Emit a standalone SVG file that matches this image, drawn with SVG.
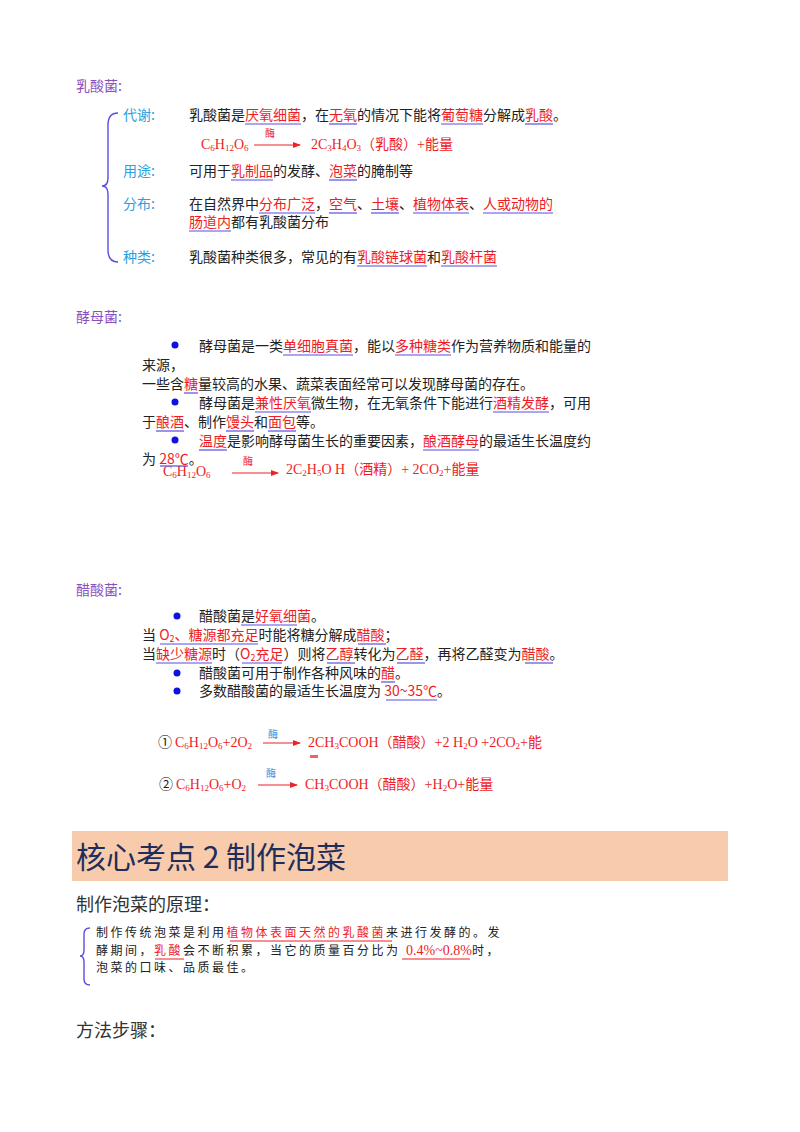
<svg xmlns="http://www.w3.org/2000/svg" width="800" height="1132" viewBox="0 0 800 1132">
<defs>
<marker id="ah" markerWidth="8" markerHeight="8" refX="7" refY="4" orient="auto" markerUnits="userSpaceOnUse"><path d="M0,1 L8,4 L0,7 Z" fill="#e8232a"/></marker>
<style>
text{font-family:"Noto Sans CJK SC","Liberation Sans",sans-serif;font-size:14px;fill:#222}
.r{fill:#ee1c25}
.h{fill:#8a50c0;font-size:14px}
.lab{fill:#2aa0e0}
.f{font-family:"Liberation Serif","Noto Sans CJK SC",serif;font-size:14px;fill:#ee1c25}
.s{font-size:9px}
.ez{font-size:10px;fill:#ee1c25}
.ezb{font-size:10px;fill:#3a8fd8}
.u{stroke:#5a4de0;stroke-width:1.2}
.arr{stroke:#e8232a;stroke-width:1.2;marker-end:url(#ah)}
.br{fill:none;stroke:#5a4de0;stroke-width:1.4}
.dot{fill:#1010e0}
.p{font-family:"Liberation Serif","Noto Sans CJK SC",serif;font-size:12px;letter-spacing:2.5px;fill:#222}
</style>
</defs>

<g id="lactic">
<text class="h" x="76" y="91">乳酸菌:</text>
<path class="br" d="M118,113 Q108,113 108,125 L108,178 Q108,186 102,186 Q108,186 108,194 L108,250 Q108,262 118,262"/>
<text class="lab" x="123" y="120">代谢:</text>
<text x="189" y="120">乳酸菌是<tspan class="r">厌氧细菌</tspan>，在<tspan class="r">无氧</tspan>的情况下能将<tspan class="r">葡萄糖</tspan>分解成<tspan class="r">乳酸</tspan>。</text>
<text class="f" x="201" y="149">C<tspan class="s" dy="2">6</tspan><tspan dy="-2">H</tspan><tspan class="s" dy="2">12</tspan><tspan dy="-2">O</tspan><tspan class="s" dy="2">6</tspan></text>
<text class="ez" x="265" y="137">酶</text>
<text class="f" x="311" y="149">2C<tspan class="s" dy="2">3</tspan><tspan dy="-2">H</tspan><tspan class="s" dy="2">4</tspan><tspan dy="-2">O</tspan><tspan class="s" dy="2">3</tspan><tspan dy="-2">（乳酸）+能量</tspan></text>
<text class="lab" x="123" y="176">用途:</text>
<text x="189" y="176">可用于<tspan class="r">乳制品</tspan>的发酵、<tspan class="r">泡菜</tspan>的腌制等</text>
<text class="lab" x="123" y="209">分布:</text>
<text x="189" y="209">在自然界中<tspan class="r">分布广泛</tspan>，<tspan class="r">空气</tspan>、<tspan class="r">土壤</tspan>、<tspan class="r">植物体表</tspan>、<tspan class="r">人或动物的</tspan></text>
<text x="189" y="227"><tspan class="r">肠道内</tspan>都有乳酸菌分布</text>
<text class="lab" x="123" y="262">种类:</text>
<text x="189" y="262">乳酸菌种类很多，常见的有<tspan class="r">乳酸链球菌</tspan>和<tspan class="r">乳酸杆菌</tspan></text>
</g>

<g id="yeast">
<text class="h" x="76" y="322">酵母菌:</text>
<circle class="dot" cx="175" cy="345" r="3.5"/>
<circle class="dot" cx="175" cy="402" r="3.5"/>
<circle class="dot" cx="175" cy="440" r="3.5"/>
<text x="199" y="351">酵母菌是一类<tspan class="r">单细胞真菌</tspan>，能以<tspan class="r">多种糖类</tspan>作为营养物质和能量的</text>
<text x="142" y="370">来源，</text>
<text x="142" y="389">一些含<tspan class="r">糖</tspan>量较高的水果、蔬菜表面经常可以发现酵母菌的存在。</text>
<text x="199" y="408">酵母菌是<tspan class="r">兼性厌氧</tspan>微生物，在无氧条件下能进行<tspan class="r">酒精发酵</tspan>，可用</text>
<text x="142" y="427">于<tspan class="r">酿酒</tspan>、制作<tspan class="r">馒头</tspan>和<tspan class="r">面包</tspan>等。</text>
<text x="199" y="446"><tspan class="r">温度</tspan>是影响酵母菌生长的重要因素，<tspan class="r">酿酒酵母</tspan>的最适生长温度约</text>
<text x="142" y="464">为 <tspan class="r">28℃</tspan>。</text>
<text class="f" x="163" y="476">C<tspan class="s" dy="2">6</tspan><tspan dy="-2">H</tspan><tspan class="s" dy="2">12</tspan><tspan dy="-2">O</tspan><tspan class="s" dy="2">6</tspan></text>
<text class="ez" x="243" y="465">酶</text>
<text class="f" x="286" y="474">2C<tspan class="s" dy="2">2</tspan><tspan dy="-2">H</tspan><tspan class="s" dy="2">5</tspan><tspan dy="-2">O H（酒精）+ 2CO</tspan><tspan class="s" dy="2">2</tspan><tspan dy="-2">+能量</tspan></text>
</g>

<g id="acetic">
<text class="h" x="76" y="595">醋酸菌:</text>
<circle class="dot" cx="177" cy="616" r="3.5"/>
<circle class="dot" cx="177" cy="673" r="3.5"/>
<circle class="dot" cx="177" cy="691" r="3.5"/>
<text x="199" y="621">醋酸菌是<tspan class="r">好氧细菌</tspan>。</text>
<text x="142" y="640">当 <tspan class="r">O<tspan class="s" dy="2">2</tspan><tspan dy="-2">、糖源都充足</tspan></tspan>时能将糖分解成<tspan class="r">醋酸</tspan>；</text>
<text x="142" y="659">当<tspan class="r">缺少糖源</tspan>时（<tspan class="r">O<tspan class="s" dy="2">2</tspan><tspan dy="-2">充足</tspan></tspan>）则将<tspan class="r">乙醇</tspan>转化为<tspan class="r">乙醛</tspan>，再将乙醛变为<tspan class="r">醋酸</tspan>。</text>
<text x="199" y="678">醋酸菌可用于制作各种风味的<tspan class="r">醋</tspan>。</text>
<text x="199" y="696">多数醋酸菌的最适生长温度为 <tspan class="r">30~35℃</tspan>。</text>
<text x="158" y="747" style="font-size:14px">①</text>
<text class="f" x="175" y="747">C<tspan class="s" dy="2">6</tspan><tspan dy="-2">H</tspan><tspan class="s" dy="2">12</tspan><tspan dy="-2">O</tspan><tspan class="s" dy="2">6</tspan><tspan dy="-2">+2O</tspan><tspan class="s" dy="2">2</tspan></text>
<text class="ezb" x="268" y="738">酶</text>
<text class="f" x="308" y="747">2CH<tspan class="s" dy="2">3</tspan><tspan dy="-2">COOH（醋酸）+2  H</tspan><tspan class="s" dy="2">2</tspan><tspan dy="-2">O +2CO</tspan><tspan class="s" dy="2">2</tspan><tspan dy="-2">+能</tspan></text>
<rect x="310" y="755" width="8" height="3" fill="#ee1c25" opacity="0.7"/>
<text x="159" y="789" style="font-size:14px">②</text>
<text class="f" x="176" y="789">C<tspan class="s" dy="2">6</tspan><tspan dy="-2">H</tspan><tspan class="s" dy="2">12</tspan><tspan dy="-2">O</tspan><tspan class="s" dy="2">6</tspan><tspan dy="-2">+O</tspan><tspan class="s" dy="2">2</tspan></text>
<text class="ezb" x="266" y="777">酶</text>
<text class="f" x="305" y="789">CH<tspan class="s" dy="2">3</tspan><tspan dy="-2">COOH（醋酸）+H</tspan><tspan class="s" dy="2">2</tspan><tspan dy="-2">O+能量</tspan></text>
</g>

<g id="pickle">
<rect x="72" y="831" width="656" height="50" fill="#f7cbac"/>
<text x="76" y="868" style="font-size:30px;fill:#1f2d5a">核心考点 2 制作泡菜</text>
<text x="76" y="911" style="font-family:'Liberation Serif','Noto Sans CJK SC',serif;font-size:18px;fill:#333">制作泡菜的原理：</text>
<path class="br" d="M90,928 Q84,928 84,934 L84,950 Q84,956 80,956 Q84,956 84,962 L84,979 Q84,985 90,985"/>
<text class="p" x="96" y="937">制作传统泡菜是利用<tspan class="r">植物体表面天然的乳酸菌</tspan>来进行发酵的。发</text>
<text class="p" x="96" y="955">酵期间，<tspan class="r">乳酸</tspan>会不断积累，当它的质量百分比为 <tspan class="r" style="letter-spacing:0;font-size:14px">0.4%~0.8%</tspan>时，</text>
<text class="p" x="96" y="972">泡菜的口味、品质最佳。</text>
<line x1="230" y1="941" x2="392" y2="941" stroke="#ee1c25" stroke-width="1"/>
<line x1="155" y1="959" x2="184" y2="959" stroke="#ee1c25" stroke-width="1"/>
<line x1="402" y1="959" x2="470" y2="959" stroke="#ee1c25" stroke-width="1"/>
<text x="76" y="1037" style="font-family:'Liberation Serif','Noto Sans CJK SC',serif;font-size:18px;fill:#333">方法步骤：</text>
</g>

<g id="connectors">
<line class="arr" x1="254" y1="145" x2="300" y2="145"/>
<line class="arr" x1="232" y1="473" x2="278" y2="473"/>
<line class="arr" x1="263" y1="743" x2="300" y2="743"/>
<line class="arr" x1="258" y1="785" x2="297" y2="785"/>
</g>

<g id="underlines">
<line class="u" x1="245" y1="124" x2="301" y2="124"/>
<line class="u" x1="329" y1="124" x2="357" y2="124"/>
<line class="u" x1="441" y1="124" x2="483" y2="124"/>
<line class="u" x1="525" y1="124" x2="553" y2="124"/>
<line class="u" x1="231" y1="180" x2="273" y2="180"/>
<line class="u" x1="329" y1="180" x2="357" y2="180"/>
<line class="u" x1="259" y1="213" x2="315" y2="213"/>
<line class="u" x1="329" y1="213" x2="357" y2="213"/>
<line class="u" x1="371" y1="213" x2="399" y2="213"/>
<line class="u" x1="413" y1="213" x2="469" y2="213"/>
<line class="u" x1="483" y1="213" x2="553" y2="213"/>
<line class="u" x1="189" y1="231" x2="231" y2="231"/>
<line class="u" x1="357" y1="266" x2="427" y2="266"/>
<line class="u" x1="441" y1="266" x2="497" y2="266"/>
<line class="u" x1="283" y1="355" x2="353" y2="355"/>
<line class="u" x1="395" y1="355" x2="451" y2="355"/>
<line class="u" x1="184" y1="393" x2="198" y2="393"/>
<line class="u" x1="255" y1="412" x2="311" y2="412"/>
<line class="u" x1="493" y1="412" x2="549" y2="412"/>
<line class="u" x1="156" y1="431" x2="184" y2="431"/>
<line class="u" x1="226" y1="431" x2="254" y2="431"/>
<line class="u" x1="268" y1="431" x2="296" y2="431"/>
<line class="u" x1="199" y1="450" x2="227" y2="450"/>
<line class="u" x1="423" y1="450" x2="479" y2="450"/>
<line class="u" x1="160" y1="466" x2="188" y2="466"/>
<line class="u" x1="241" y1="625" x2="297" y2="625"/>
<line class="u" x1="160" y1="644" x2="258" y2="644"/>
<line class="u" x1="358" y1="644" x2="386" y2="644"/>
<line class="u" x1="156" y1="663" x2="212" y2="663"/>
<line class="u" x1="242" y1="663" x2="282" y2="663"/>
<line class="u" x1="327" y1="663" x2="355" y2="663"/>
<line class="u" x1="397" y1="663" x2="425" y2="663"/>
<line class="u" x1="525" y1="663" x2="553" y2="663"/>
<line class="u" x1="381" y1="682" x2="395" y2="682"/>
<line class="u" x1="386" y1="700" x2="437" y2="700"/>
</g>
</svg>
